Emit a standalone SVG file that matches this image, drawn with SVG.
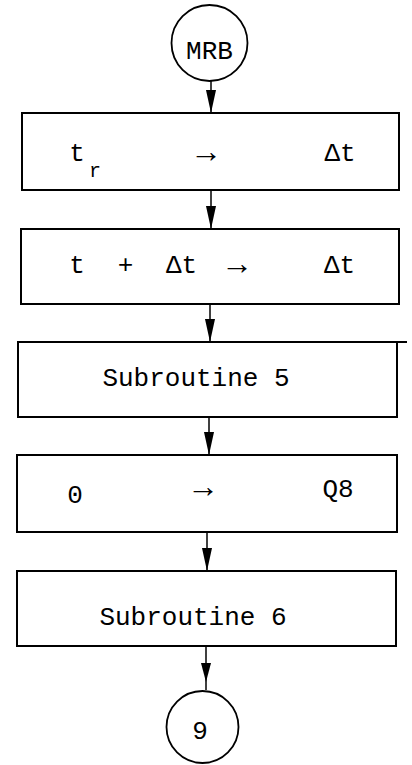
<svg xmlns="http://www.w3.org/2000/svg" width="412" height="765" viewBox="0 0 412 765">
<style>
.box{fill:#fff;stroke:#000;stroke-width:2}
.term{fill:#fff;stroke:#000;stroke-width:1.8}
.t{font-family:"Liberation Mono","DejaVu Sans Mono",monospace;font-size:26px;fill:#000;text-anchor:middle}
.sub{font-size:20px}
.arr{font-size:32px}
.conn line{stroke:#000;stroke-width:1.5}
.conn polygon{fill:#000}
</style>
<rect width="412" height="765" fill="#fff"/>
<g id="connectors" class="conn">
<line x1="211" y1="81" x2="211" y2="112"/>
<polygon points="206,90 216,90 211,113"/>
<line x1="211" y1="190" x2="211" y2="228"/>
<polygon points="206,206 216,206 211,229"/>
<line x1="210" y1="304" x2="210" y2="341"/>
<polygon points="205,319 215,319 210,342"/>
<line x1="209" y1="417" x2="209" y2="454"/>
<polygon points="204,432 214,432 209,455"/>
<line x1="207" y1="532" x2="207" y2="570"/>
<polygon points="202,548 212,548 207,571"/>
<line x1="206" y1="646" x2="206" y2="690"/>
<polygon points="201,663 211,663 206,682"/>
</g>
<g id="start">
<circle class="term" cx="209.5" cy="43" r="38"/>
<text class="t" x="209.5" y="59">MRB</text>
</g>
<g id="box1">
<rect class="box" x="22" y="113" width="377" height="77"/>
<text class="t" x="77" y="161">t</text>
<text class="t sub" x="95" y="177">r</text>
<text class="t arr" x="206" y="162">→</text>
<text class="t" x="340" y="161">Δt</text>
</g>
<g id="box2">
<rect class="box" x="21" y="229" width="378" height="75"/>
<text class="t" x="77" y="273">t</text>
<text class="t" x="125.5" y="273">+</text>
<text class="t" x="181.5" y="273">Δt</text>
<text class="t arr" x="237" y="274">→</text>
<text class="t" x="339.5" y="273">Δt</text>
</g>
<g id="box3">
<rect class="box" x="18" y="342" width="379" height="75"/>
<line x1="397" y1="342" x2="407" y2="342" stroke="#000" stroke-width="2"/>
<text class="t" x="196" y="386">Subroutine 5</text>
</g>
<g id="box4">
<rect class="box" x="17" y="455" width="380" height="77"/>
<text class="t" x="75" y="503">0</text>
<text class="t arr" x="203" y="497">→</text>
<text class="t" x="338" y="497">Q8</text>
</g>
<g id="box5">
<rect class="box" x="17" y="571" width="379" height="75"/>
<text class="t" x="193" y="625">Subroutine 6</text>
</g>
<g id="end">
<circle class="term" cx="202.5" cy="727" r="36"/>
<text class="t" x="200" y="739">9</text>
</g>
</svg>
